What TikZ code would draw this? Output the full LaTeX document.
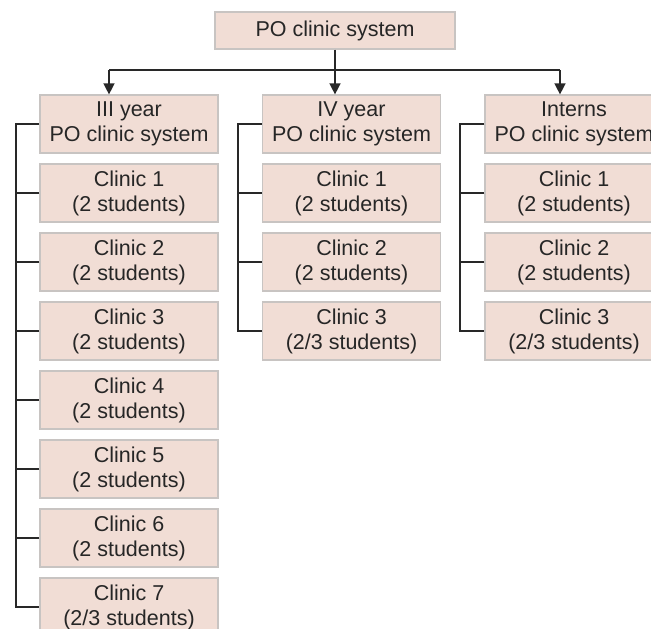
\documentclass[tikz,border=0pt]{standalone}
\usepackage{fontspec}
\setmainfont{Liberation Sans}
\usetikzlibrary{arrows.meta}
\definecolor{boxfill}{RGB}{241,221,213}
\definecolor{boxline}{RGB}{200,196,194}
\definecolor{linec}{RGB}{40,40,40}
\tikzset{
  pbox/.style={draw=boxline, line width=1.2pt, fill=boxfill, minimum width=178pt, minimum height=58pt,
    inner sep=0pt, align=center, font=\fontsize{21.5pt}{25pt}\selectfont, text=black!85},
  topbox/.style={pbox, minimum width=240pt, minimum height=37pt},
  conn/.style={draw=linec, line width=1.4pt},
  arr/.style={conn, -{Triangle[width=11pt,length=11pt]}}
}
\begin{document}
\begin{tikzpicture}[x=1pt,y=-1pt]
\useasboundingbox (0,0) rectangle (651,629);
\node[topbox] (top) at (335,30.5) {PO clinic system};
% column 1
\node[pbox] (a0) at (129,124) {III year\\PO clinic system};
\foreach \i/\t in {1/2 students,2/2 students,3/2 students,4/2 students,5/2 students,6/2 students,7/2\slash 3 students}
  \node[pbox] (a\i) at (129,124+69*\i) {Clinic \i\\(\t)};
% column 2
\node[pbox] (b0) at (351.5,124) {IV year\\PO clinic system};
\foreach \i/\t in {1/2 students,2/2 students,3/2\slash 3 students}
  \node[pbox] (b\i) at (351.5,124+69*\i) {Clinic \i\\(\t)};
% column 3
\node[pbox] (c0) at (574,124) {Interns\\PO clinic system};
\foreach \i/\t in {1/2 students,2/2 students,3/2\slash 3 students}
  \node[pbox] (c\i) at (574,124+69*\i) {Clinic \i\\(\t)};
% top connectors
\coordinate (j) at (335,70);
\coordinate (ja) at (109,70);
\coordinate (jc) at (560,70);
\draw[conn] (top.south) -- (j);
\draw[conn] (ja) -- (jc);
\draw[arr] (ja) -- (ja |- a0.north);
\draw[arr] (j) -- (j |- b0.north);
\draw[arr] (jc) -- (jc |- c0.north);
% brackets
\coordinate (ka) at (16,124);
\coordinate (kb) at (238,124);
\coordinate (kc) at (460,124);
\draw[conn] (a0.west) -- (ka) |- (a7.west);
\foreach \i in {1,...,6} \draw[conn] (a\i.west) -- (a\i.west -| ka);
\draw[conn] (b0.west) -- (kb) |- (b3.west);
\foreach \i in {1,2} \draw[conn] (b\i.west) -- (b\i.west -| kb);
\draw[conn] (c0.west) -- (kc) |- (c3.west);
\foreach \i in {1,2} \draw[conn] (c\i.west) -- (c\i.west -| kc);
\end{tikzpicture}
\end{document}
